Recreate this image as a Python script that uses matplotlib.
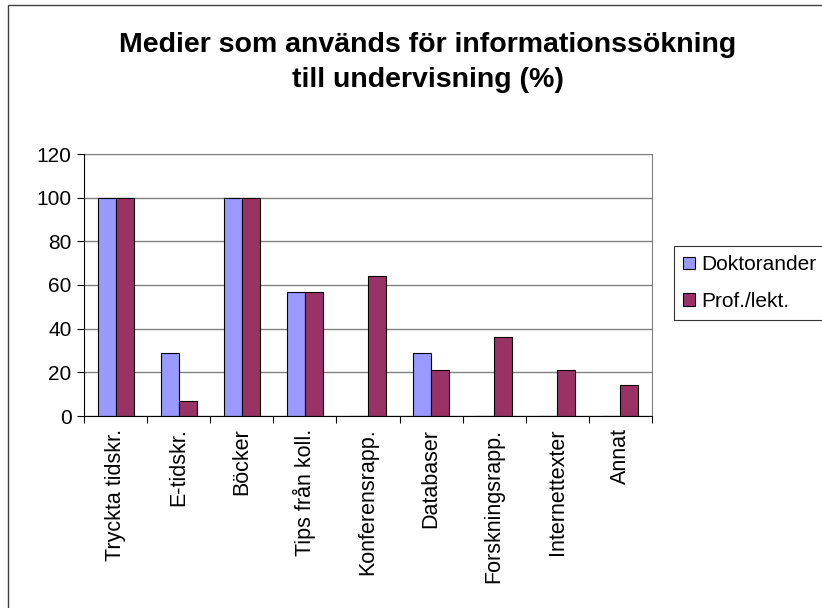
import numpy as np
import matplotlib
matplotlib.use("Agg")
import matplotlib.pyplot as plt
from matplotlib.patches import Rectangle

plt.rcParams['font.family'] = ['Liberation Sans', 'DejaVu Sans']

categories = ["Tryckta tidskr.", "E-tidskr.", "Böcker", "Tips från koll.",
              "Konferensrapp.", "Databaser", "Forskningsrapp.",
              "Internettexter", "Annat"]
doktorander = [100, 29, 100, 57, 0, 29, 0, 0, 0]
prof_lekt = [100, 7, 100, 57, 64, 21, 36, 21, 14]
series_names = ["Doktorander", "Prof./lekt."]
yticks = [0, 20, 40, 60, 80, 100, 120]

fig = plt.figure(figsize=(8.22, 6.08), dpi=100)
ax = fig.add_axes([84 / 822, 1 - 416 / 608, 568 / 822, 262 / 608])

x = np.arange(len(categories))
w = 0.286
ax.bar(x - w / 2, doktorander, w, color="#9999FF", edgecolor="black",
       linewidth=0.8, label=series_names[0], zorder=3)
ax.bar(x + w / 2, prof_lekt, w, color="#993366", edgecolor="black",
       linewidth=0.8, label=series_names[1], zorder=3)

ax.set_xlim(-0.5, len(categories) - 0.5)
ax.set_ylim(0, 120)
ax.set_yticks(yticks)
ax.tick_params(axis='y', labelsize=15, length=5, width=0.8, pad=4)
ax.yaxis.grid(True, color="#808080", linewidth=1, zorder=0)

ax.set_xticks(np.arange(len(categories) + 1) - 0.5)
ax.set_xticklabels([])
ax.set_xticks(x, minor=True)
ax.set_xticklabels(categories, minor=True, rotation=90, fontsize=15.5,
                   va="top", ha="center")
ax.tick_params(axis='x', which='major', length=5, width=0.8)
ax.tick_params(axis='x', which='minor', length=0, pad=9)

for s in ["top", "right"]:
    ax.spines[s].set_color("#808080")
for s in ["left", "bottom"]:
    ax.spines[s].set_color("black")
    ax.spines[s].set_zorder(4)

fig.text(428 / 822, 1 - 45 / 608, "Medier som används för informationssökning",
         ha="center", va="center", fontsize=20.5, fontweight="bold")
fig.text(428 / 822, 1 - 80 / 608, "till undervisning (%)",
         ha="center", va="center", fontsize=20.5, fontweight="bold")

leg = fig.legend(loc="upper left", bbox_to_anchor=(674 / 822, 1 - 246 / 608),
                 fontsize=15, frameon=True, fancybox=False, edgecolor="black",
                 handlelength=0.55, handleheight=0.55, handletextpad=0.3,
                 labelspacing=0.85, borderpad=0.45, borderaxespad=0)
leg.get_frame().set_linewidth(0.8)

fig.patches.append(Rectangle((8 / 822, -0.1), 1.0, 1 - 5 / 608 + 0.1,
                             transform=fig.transFigure, fill=False,
                             edgecolor="#404040", linewidth=1))

fig.savefig("out.png", dpi=100)
